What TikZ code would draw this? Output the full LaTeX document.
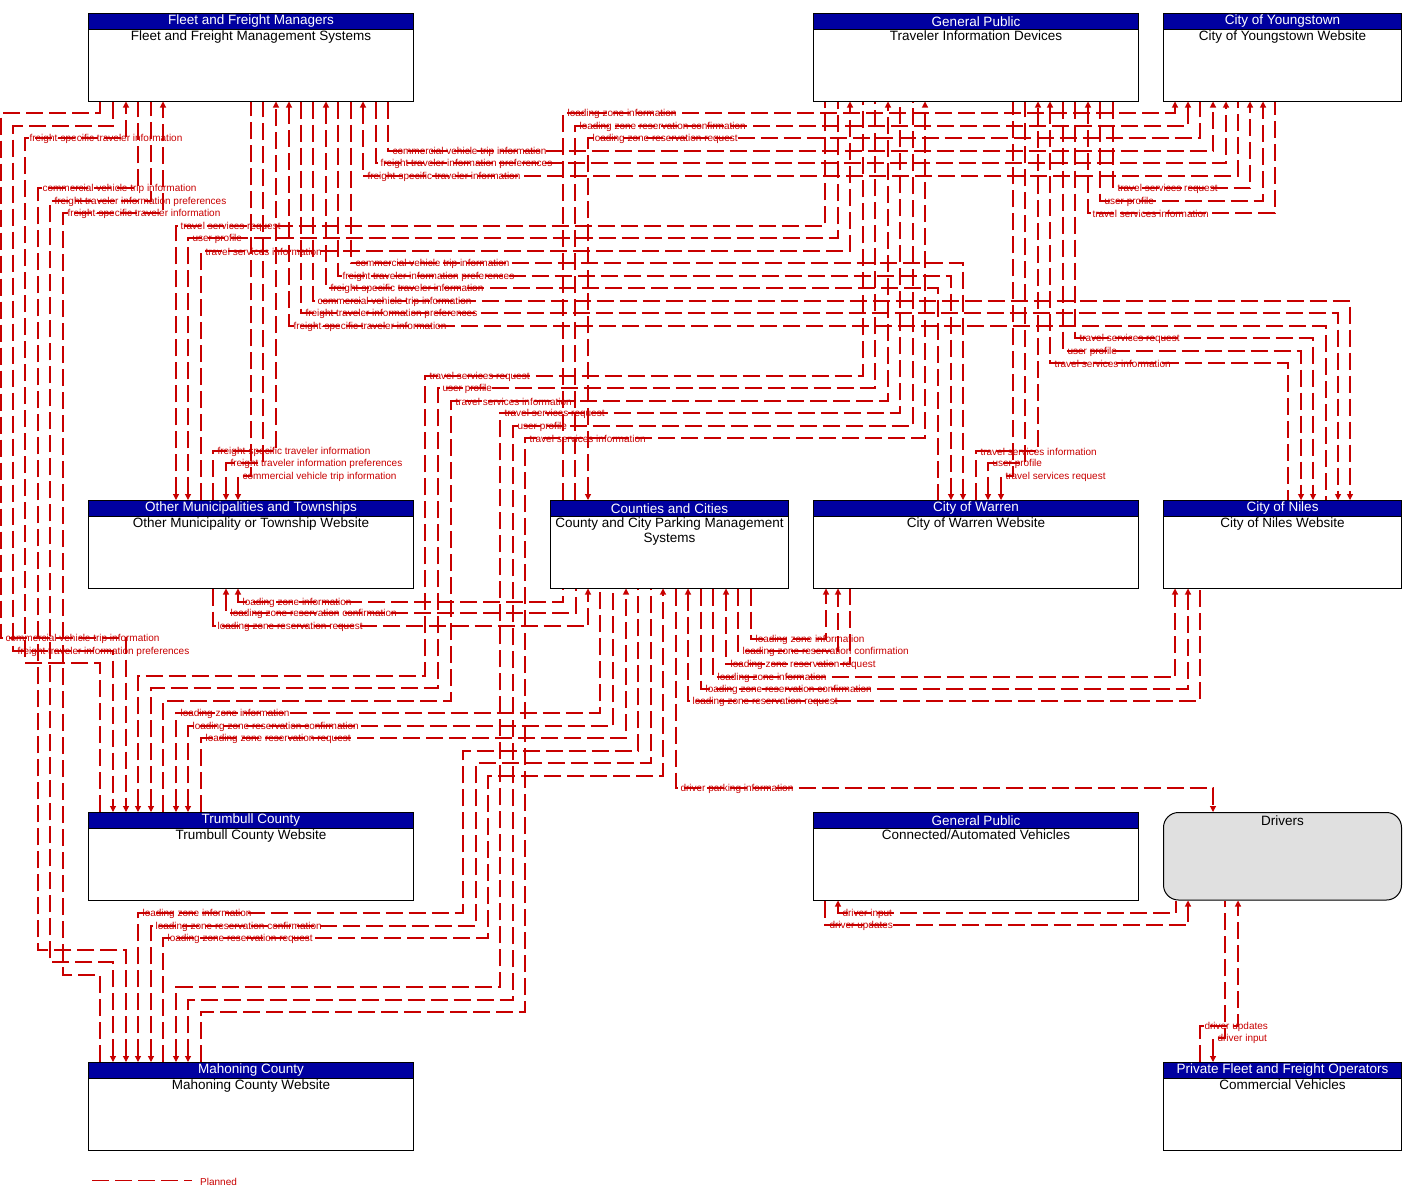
\documentclass[tikz,border=0pt]{standalone}
\usepackage{fontspec}
\setmainfont{Liberation Sans}
\usepackage{tikz}
\usepackage{xcolor}
\usetikzlibrary{arrows.meta}

\definecolor{flowred}{RGB}{200,0,0}
\definecolor{hdrblue}{RGB}{0,0,160}
\definecolor{drvgray}{RGB}{224,224,224}

\begin{document}
\begin{tikzpicture}[x=1pt,y=-1pt,
    wide/.style={minimum width=325pt},
    narrow/.style={minimum width=238pt},
    box/.style={draw=black,line width=1pt,fill=white,anchor=north west,minimum height=87.5pt,inner sep=0pt},
    hdr/.style={draw=black,line width=1pt,fill=hdrblue,text=white,anchor=north,minimum height=15.7pt,inner sep=0pt,font=\fontsize{13.5}{15}\selectfont},
    txt/.style={anchor=north,align=center,inner sep=1pt,font=\fontsize{13.5}{15}\selectfont},
    flow/.style={draw=flowred,line width=1.1pt,dash pattern=on 17pt off 6pt},
    lbl/.style={anchor=west,inner sep=0pt,xshift=4pt,yshift=-0.5pt,text=flowred,font=\fontsize{10}{11}\selectfont}]

\useasboundingbox (0,0) rectangle (1411,1200);

\begin{scope}
    \node[box,wide]   (ffm)      at (88,13)    {};
    \node[box,wide]   (tid)      at (813,13)   {};
    \node[box,narrow] (yw)       at (1163,13)  {};
    \node[box,wide]   (omt)      at (88,500)   {};
    \node[box,narrow] (parking)  at (550,500)  {};
    \node[box,wide]   (warren)   at (813,500)  {};
    \node[box,narrow] (niles)    at (1163,500) {};
    \node[box,wide]   (trumbull) at (88,812)   {};
    \node[box,wide]   (cav)      at (813,812)  {};
    \node[box,narrow,fill=drvgray,rounded corners=15pt] (drivers) at (1163,812) {};
    \node[box,wide]   (mahoning) at (88,1062)  {};
    \node[box,narrow] (pfo)      at (1163,1062) {};

    \node[hdr,wide]   (ffmh)      at (ffm.north)      {Fleet and Freight Managers};
    \node[hdr,wide]   (tidh)      at (tid.north)      {General Public};
    \node[hdr,narrow] (ywh)       at (yw.north)       {City of Youngstown};
    \node[hdr,wide]   (omth)      at (omt.north)      {Other Municipalities and Townships};
    \node[hdr,narrow] (parkingh)  at (parking.north)  {Counties and Cities};
    \node[hdr,wide]   (warrenh)   at (warren.north)   {City of Warren};
    \node[hdr,narrow] (nilesh)    at (niles.north)    {City of Niles};
    \node[hdr,wide]   (trumbullh) at (trumbull.north) {Trumbull County};
    \node[hdr,wide]   (cavh)      at (cav.north)      {General Public};
    \node[hdr,wide]   (mahoningh) at (mahoning.north) {Mahoning County};
    \node[hdr,narrow] (pfoh)      at (pfo.north)      {Private Fleet and Freight Operators};

    \node[txt] (ffmt)      at (ffmh.south)      {Fleet and Freight Management Systems};
    \node[txt] (tidt)      at (tidh.south)      {Traveler Information Devices};
    \node[txt] (ywt)       at (ywh.south)       {City of Youngstown Website};
    \node[txt] (omtt)      at (omth.south)      {Other Municipality or Township Website};
    \node[txt] (parkingt)  at (parkingh.south)  {County and City Parking Management\\Systems};
    \node[txt] (warrent)   at (warrenh.south)   {City of Warren Website};
    \node[txt] (nilest)    at (nilesh.south)    {City of Niles Website};
    \node[txt] (trumbullt) at (trumbullh.south) {Trumbull County Website};
    \node[txt] (cavt)      at (cavh.south)      {Connected/Automated Vehicles};
    \node[txt] (driverst)  at ([yshift=-3pt]drivers.north) {Drivers};
    \node[txt] (mahoningt) at (mahoningh.south) {Mahoning County Website};
    \node[txt] (pfot)      at (pfoh.south)      {Commercial Vehicles};
\end{scope}

\begin{scope}[>={Triangle[length=6pt,width=6pt]},
              every node/.style={lbl}]
    \draw[flow,->] (ffm.south -| 388,0) |- node (a1) {commercial vehicle trip information} (1213,151) -- (yw.south -| 1213,0);
    \draw[flow,->] (ffm.south -| 376,0) |- node (a2) {freight traveler information preferences} (1226,163) -- (yw.south -| 1226,0);
    \draw[flow,<-] (ffm.south -| 363,0) |- node (a3) {freight-specific traveler information} (1238,176) -- (yw.south -| 1238,0);
    \draw[flow,->] (ffm.south -| 351,0) |- node (a4) {commercial vehicle trip information} (963,263) -- (warren.north -| 963,0);
    \draw[flow,->] (ffm.south -| 338,0) |- node (a5) {freight traveler information preferences} (951,276) -- (warren.north -| 951,0);
    \draw[flow,<-] (ffm.south -| 326,0) |- node (a6) {freight-specific traveler information} (938,288) -- (warren.north -| 938,0);
    \draw[flow,->] (ffm.south -| 313,0) |- node (a7) {commercial vehicle trip information} (1350,301) -- (niles.north -| 1350,0);
    \draw[flow,->] (ffm.south -| 301,0) |- node (a8) {freight traveler information preferences} (1338,313) -- (niles.north -| 1338,0);
    \draw[flow,<-] (ffm.south -| 289,0) |- node (a9) {freight-specific traveler information} (1326,326) -- (niles.north -| 1326,0);
    \draw[flow,<-] (omt.north -| 238,0) |- node (a10) {commercial vehicle trip information} (251,476) -- (ffm.south -| 251,0);
    \draw[flow,<-] (omt.north -| 226,0) |- node (a11) {freight traveler information preferences} (263,463) -- (ffm.south -| 263,0);
    \draw[flow,->] (omt.north -| 213,0) |- node (a12) {freight-specific traveler information} (276,451) -- (ffm.south -| 276,0);
    \draw[flow,->] (ffm.south -| 100,0) |- (1,113) |- node (a13) {commercial vehicle trip information} (126,638) -- (trumbull.north -| 126,0);
    \draw[flow,->] (ffm.south -| 113,0) |- (13,126) |- node (a14) {freight traveler information preferences} (113,651) -- (trumbull.north -| 113,0);
    \draw[flow,->] (trumbull.north -| 100,0) |- (25,663) |- node (a15) {freight-specific traveler information} (126,138) -- (ffm.south -| 126,0);
    \draw[flow,<-] (mahoning.north -| 126,0) |- (38,950) |- node (a16) {commercial vehicle trip information} (138,188) -- (ffm.south -| 138,0);
    \draw[flow,<-] (mahoning.north -| 113,0) |- (50,962) |- node (a17) {freight traveler information preferences} (151,201) -- (ffm.south -| 151,0);
    \draw[flow,->] (mahoning.north -| 100,0) |- (63,975) |- node (a18) {freight-specific traveler information} (163,213) -- (ffm.south -| 163,0);

    \draw[flow,->] (tid.south -| 1113,0) |- node (b1) {travel services request} (1250,188) -- (yw.south -| 1250,0);
    \draw[flow,->] (tid.south -| 1100,0) |- node (b2) {user profile} (1263,201) -- (yw.south -| 1263,0);
    \draw[flow,<-] (tid.south -| 1088,0) |- node (b3) {travel services information} (1275,213) -- (yw.south -| 1275,0);
    \draw[flow,->] (tid.south -| 1075,0) |- node (b4) {travel services request} (1313,338) -- (niles.north -| 1313,0);
    \draw[flow,->] (tid.south -| 1063,0) |- node (b5) {user profile} (1301,351) -- (niles.north -| 1301,0);
    \draw[flow,<-] (tid.south -| 1050,0) |- node (b6) {travel services information} (1288,363) -- (niles.north -| 1288,0);
    \draw[flow,->] (warren.north -| 976,0) |- node (b7) {travel services information} (1038,451) -- (tid.south -| 1038,0);
    \draw[flow,<-] (warren.north -| 988,0) |- node (b8) {user profile} (1025,463) -- (tid.south -| 1025,0);
    \draw[flow,<-] (warren.north -| 1001,0) |- node (b9) {travel services request} (1013,476) -- (tid.south -| 1013,0);
    \draw[flow,<-] (omt.north -| 176,0) |- node (b10) {travel services request} (825,226) -- (tid.south -| 825,0);
    \draw[flow,<-] (omt.north -| 188,0) |- node (b11) {user profile} (838,238) -- (tid.south -| 838,0);
    \draw[flow,->] (omt.north -| 201,0) |- node (b12) {travel services information} (850,251) -- (tid.south -| 850,0);
    \draw[flow,<-] (trumbull.north -| 138,0) |- (425,676) |- node (b13) {travel services request} (863,376) -- (tid.south -| 863,0);
    \draw[flow,<-] (trumbull.north -| 151,0) |- (438,688) |- node (b14) {user profile} (875,388) -- (tid.south -| 875,0);
    \draw[flow,->] (trumbull.north -| 163,0) |- (451,701) |- node (b15) {travel services information} (888,401) -- (tid.south -| 888,0);
    \draw[flow,<-] (mahoning.north -| 176,0) |- (500,987) |- node (b16) {travel services request} (900,413) -- (tid.south -| 900,0);
    \draw[flow,<-] (mahoning.north -| 188,0) |- (513,1000) |- node (b17) {user profile} (913,426) -- (tid.south -| 913,0);
    \draw[flow,->] (mahoning.north -| 201,0) |- (525,1012) |- node (b18) {travel services information} (925,438) -- (tid.south -| 925,0);

    \draw[flow,->] (parking.north -| 563,0) |- node (c1) {loading zone information} (1175,113) -- (yw.south -| 1175,0);
    \draw[flow,->] (parking.north -| 575,0) |- node (c2) {loading zone reservation confirmation} (1188,126) -- (yw.south -| 1188,0);
    \draw[flow,<-] (parking.north -| 588,0) |- node (c3) {loading zone reservation request} (1200,138) -- (yw.south -| 1200,0);
    \draw[flow,<-] (omt.south -| 238,0) |- node (c4) {loading zone information} (563,602) -- (parking.south -| 563,0);
    \draw[flow,<-] (omt.south -| 226,0) |- node (c5) {loading zone reservation confirmation} (576,613) -- (parking.south -| 576,0);
    \draw[flow,->] (omt.south -| 213,0) |- node (c6) {loading zone reservation request} (588,626) -- (parking.south -| 588,0);
    \draw[flow,<-] (trumbull.north -| 176,0) |- node (c7) {loading zone information} (600,713) -- (parking.south -| 600,0);
    \draw[flow,<-] (trumbull.north -| 188,0) |- node (c8) {loading zone reservation confirmation} (613,726) -- (parking.south -| 613,0);
    \draw[flow,->] (trumbull.north -| 201,0) |- node (c9) {loading zone reservation request} (626,738) -- (parking.south -| 626,0);
    \draw[flow,<-] (mahoning.north -| 138,0) |- node (c10) {loading zone information} (463,913) |- (638,751) -- (parking.south -| 638,0);
    \draw[flow,<-] (mahoning.north -| 151,0) |- node (c11) {loading zone reservation confirmation} (476,926) |- (651,763) -- (parking.south -| 651,0);
    \draw[flow,->] (mahoning.north -| 163,0) |- node (c12) {loading zone reservation request} (488,938) |- (663,776) -- (parking.south -| 663,0);
    \draw[flow,->] (parking.south -| 751,0) |- node (c13) {loading zone information} (826,639) -- (warren.south -| 826,0);
    \draw[flow,->] (parking.south -| 738,0) |- node (c14) {loading zone reservation confirmation} (838,651) -- (warren.south -| 838,0);
    \draw[flow,<-] (parking.south -| 726,0) |- node (c15) {loading zone reservation request} (850,664) -- (warren.south -| 850,0);
    \draw[flow,->] (parking.south -| 713,0) |- node (c16) {loading zone information} (1175,677) -- (niles.south -| 1175,0);
    \draw[flow,->] (parking.south -| 701,0) |- node (c17) {loading zone reservation confirmation} (1188,689) -- (niles.south -| 1188,0);
    \draw[flow,<-] (parking.south -| 688,0) |- node (c18) {loading zone reservation request} (1200,701) -- (niles.south -| 1200,0);
    \draw[flow,->] (parking.south -| 676,0) |- node (c19) {driver parking information} (1213,788) -- (drivers.north -| 1213,0);

    \draw[flow,<-] (cav.south -| 838,0) |- node (d1) {driver input} (1176,913) -- (drivers.south -| 1176,0);
    \draw[flow,->] (cav.south -| 825,0) |- node (d2) {driver updates} (1188,925) -- (drivers.south -| 1188,0);
    \draw[flow,->] (pfo.north -| 1200,0) |- node (d3) {driver updates} (1238,1026) -- (drivers.south -| 1238,0);
    \draw[flow,<-] (pfo.north -| 1213,0) |- node (d4) {driver input} (1225,1038) -- (drivers.south -| 1225,0);

    \coordinate (lgA) at (88,1180);
    \coordinate (lgB) at (188,1180);
    \draw[flow] (lgA) -- (lgB);
    \node (lgT) at (196,1181) {Planned};
\end{scope}
\end{tikzpicture}
\end{document}
